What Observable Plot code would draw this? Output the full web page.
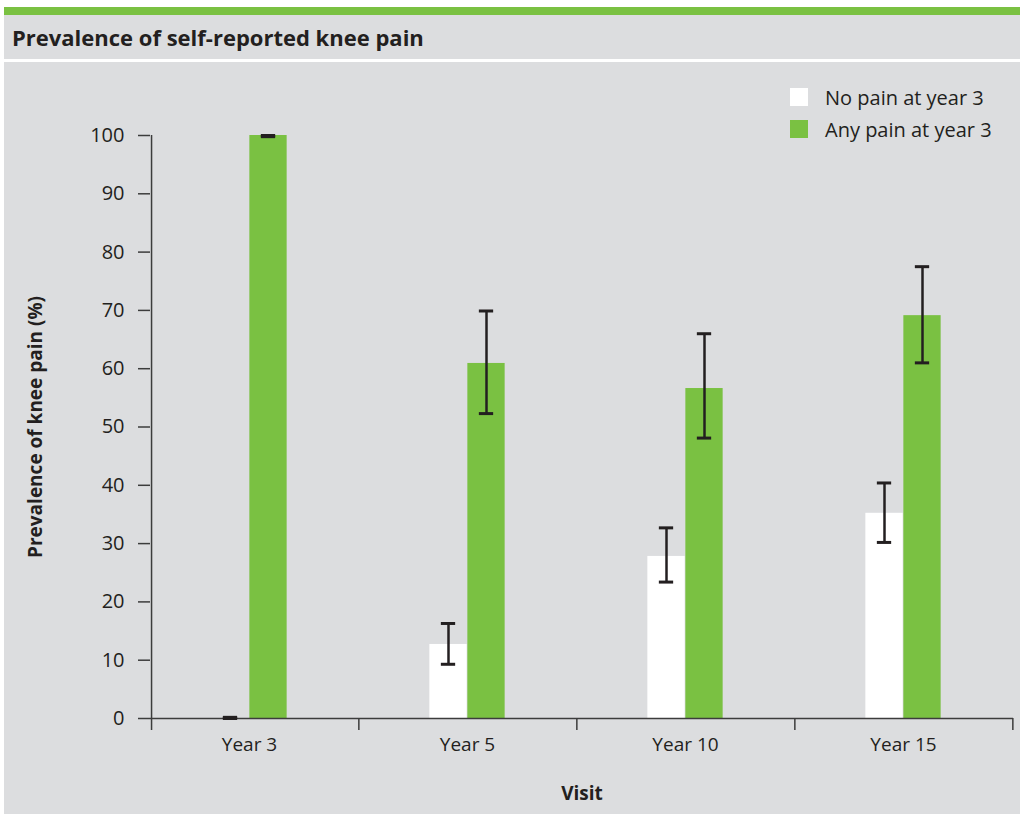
<!DOCTYPE html>
<html>
<head>
<meta charset="utf-8">
<script src="https://cdn.jsdelivr.net/npm/d3@7"></script>
<script src="https://cdn.jsdelivr.net/npm/@observablehq/plot@0.6"></script>
<style>
  html, body { margin: 0; padding: 0; background: #ffffff; }
  body { width: 1027px; height: 814px; position: relative; overflow: hidden; font-family: "Open Sans", sans-serif; color: #231f20; }
  #stripe { position: absolute; left: 4px; top: 7px; width: 1016px; height: 8px; background: #7ac142; }
  #titlebox { position: absolute; left: 4px; top: 15px; width: 1016px; height: 44px; background: #dcdddf; }
  #titlebox h1 { margin: 0; padding-left: 8px; line-height: 44px; font-size: 22px; font-weight: 700; color: #231f20; }
  #panel { position: absolute; left: 4px; top: 62px; width: 1016px; height: 752px; background: #dcdddf; }
  #chart { position: absolute; left: 0; top: 0; }
  #legend { position: absolute; left: 786px; top: 26px; }
  .item { display: flex; align-items: center; height: 18px; margin-bottom: 14px; font-size: 20px; }
  .sw { width: 18px; height: 18px; margin-right: 17px; flex: none; }
</style>
</head>
<body>
<div id="stripe"></div>
<div id="titlebox"><h1>Prevalence of self-reported knee pain</h1></div>
<div id="panel">
  <div id="chart"></div>
  <div id="legend"></div>
</div>
<script>
// ---- data ----
const visits = ["Year 3", "Year 5", "Year 10", "Year 15"];
const series = ["No pain at year 3", "Any pain at year 3"];
const noPain   = [0,    12.7, 27.8, 35.2];
const noPainLo = [0,     9.3, 23.4, 30.2];
const noPainHi = [0.2,  16.3, 32.7, 40.4];
const anyPain   = [100,  60.9, 56.6, 69.1];
const anyPainLo = [99.8, 52.3, 48.1, 61.0];
const anyPainHi = [100,  69.9, 66.0, 77.5];
const yTicks = [0, 10, 20, 30, 40, 50, 60, 70, 80, 90, 100];
const colors = ["#ffffff", "#7ac142"];

// ---- table ----
const rows = [];
visits.forEach((v, i) => {
  rows.push({visit: v, series: series[0], value: noPain[i], lo: noPainLo[i], hi: noPainHi[i]});
  rows.push({visit: v, series: series[1], value: anyPain[i], lo: anyPainLo[i], hi: anyPainHi[i]});
});
const rowsNo = rows.filter(d => d.series === series[0]);
const rowsAny = rows.filter(d => d.series === series[1]);

// ---- layout ----
const W = 1016, H = 752;
const mL = 146, mR = 7, mT = 73, mB = 96;
const xRange = [134.6, 1009.4];
const step = (xRange[1] - xRange[0]) / visits.length;
const bw = 38, capW = 15;
const ink = "#231f20", axisInk = "#3c3c3c";
const font = "'Open Sans', sans-serif";

const chart = Plot.plot({
  width: W, height: H,
  marginLeft: mL, marginRight: mR, marginTop: mT, marginBottom: mB,
  style: {background: "transparent", fontFamily: font, fontSize: "19px", color: ink},
  x: {domain: visits, range: xRange, padding: 0, axis: null},
  y: {domain: [0, 100], axis: null},
  color: {domain: series, range: colors},
  marks: [
    // bars
    Plot.barY(rowsNo, {x: "visit", y: "value", fill: "series", insetLeft: step / 2 - bw, insetRight: step / 2}),
    Plot.barY(rowsAny, {x: "visit", y: "value", fill: "series", insetLeft: step / 2, insetRight: step / 2 - bw}),
    // baseline (x axis line)
    Plot.ruleY([0], {stroke: axisInk, strokeWidth: 1.5}),
    // y axis line
    Plot.ruleX([visits[0]], {x: d => d, dx: -step / 2 + (mL - xRange[0]), insetBottom: -12, stroke: axisInk, strokeWidth: 1.5}),
    // y axis ticks + labels
    Plot.axisY({ticks: yTicks, tickSize: 12, tickPadding: 14, stroke: axisInk, strokeWidth: 1.5, label: null, fontSize: 20, fill: ink}),
    // x boundary ticks
    Plot.axisX({tickSize: 12, tickFormat: () => "", dx: step / 2, stroke: axisInk, strokeWidth: 1.5, label: null}),
    // x labels
    Plot.axisX({tickSize: 0, tickPadding: 19, label: null, fontSize: 19, fill: ink}),
    // error bars
    Plot.ruleX(rowsNo, {x: "visit", y1: "lo", y2: "hi", dx: -bw / 2, stroke: ink, strokeWidth: 2.5}),
    Plot.ruleX(rowsAny, {x: "visit", y1: "lo", y2: "hi", dx: bw / 2, stroke: ink, strokeWidth: 2.5}),
    Plot.tickY(rowsNo, {x: "visit", y: "hi", insetLeft: step / 2 - bw / 2 - capW / 2, insetRight: step / 2 + bw / 2 - capW / 2, stroke: ink, strokeWidth: 3}),
    Plot.tickY(rowsNo, {x: "visit", y: "lo", insetLeft: step / 2 - bw / 2 - capW / 2, insetRight: step / 2 + bw / 2 - capW / 2, stroke: ink, strokeWidth: 3}),
    Plot.tickY(rowsAny, {x: "visit", y: "hi", insetLeft: step / 2 + bw / 2 - capW / 2, insetRight: step / 2 - bw / 2 - capW / 2, stroke: ink, strokeWidth: 3}),
    Plot.tickY(rowsAny, {x: "visit", y: "lo", insetLeft: step / 2 + bw / 2 - capW / 2, insetRight: step / 2 - bw / 2 - capW / 2, stroke: ink, strokeWidth: 3}),
    // axis titles
    Plot.text(["Prevalence of knee pain (%)"], {text: d => d, frameAnchor: "left", textAnchor: "middle", lineAnchor: "middle", rotate: -90, dx: -115, fontWeight: "bold", fontSize: 19, fill: ink}),
    Plot.text(["Visit"], {text: d => d, frameAnchor: "bottom", textAnchor: "middle", lineAnchor: "middle", dy: 75, fontWeight: "bold", fontSize: 19, fill: ink})
  ]
});
document.getElementById("chart").appendChild(chart);

// ---- legend ----
const legend = document.getElementById("legend");
series.forEach((s, i) => {
  const item = document.createElement("div");
  item.className = "item";
  const sw = document.createElement("div");
  sw.className = "sw";
  sw.style.background = colors[i];
  const label = document.createElement("span");
  label.textContent = s;
  item.appendChild(sw);
  item.appendChild(label);
  legend.appendChild(item);
});
</script>
</body>
</html>
